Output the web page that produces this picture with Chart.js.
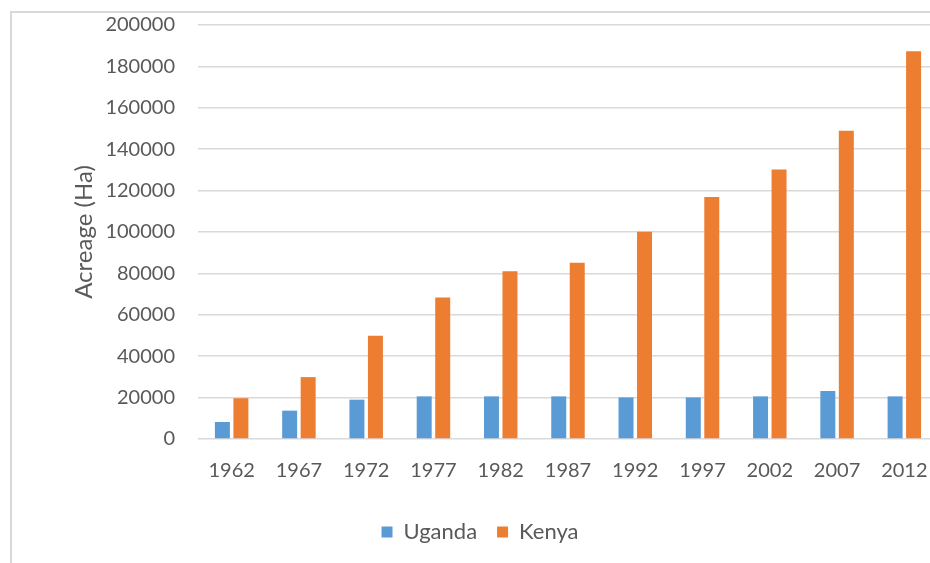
<!DOCTYPE html>
<html>
<head>
<meta charset="utf-8">
<script src="https://cdn.jsdelivr.net/npm/chart.js@4/dist/chart.umd.min.js"></script>
<style>
  html, body { margin: 0; padding: 0; background: #fff; overflow: hidden; width: 930px; height: 563px; }
  #frame { position: absolute; left: 10px; top: 11px; width: 1000px; height: 700px;
           border-left: 2px solid #d9d9d9; border-top: 2px solid #d9d9d9; }
  #wrap { position: absolute; left: 0; top: 0; width: 948px; height: 563px; }
</style>
</head>
<body>
<div id="frame"></div>
<div id="wrap"><canvas id="chart" width="948" height="563"></canvas></div>
<script>
'use strict';

// data
const years = ['1962', '1967', '1972', '1977', '1982', '1987', '1992', '1997', '2002', '2007', '2012'];
const uganda = [8200, 13700, 19000, 20600, 20600, 20600, 20100, 20100, 20600, 23200, 20600];
const kenya = [19700, 29900, 49900, 68300, 81000, 85100, 100100, 116900, 130200, 148900, 187300];
const yTicks = [0, 20000, 40000, 60000, 80000, 100000, 120000, 140000, 160000, 180000, 200000];

const textColor = '#595959';
const fontFamily = 'Lato, "Open Sans", sans-serif';

const ctx = document.getElementById('chart').getContext('2d');

const chart = new Chart(ctx, {
    type: 'bar',
    data: {
        labels: years,
        datasets: [{
            label: 'Uganda',
            data: uganda,
            backgroundColor: '#5B9BD5',
            categoryPercentage: 0.55,
            barPercentage: 0.81
        }, {
            label: 'Kenya',
            data: kenya,
            backgroundColor: '#ED7D31',
            categoryPercentage: 0.55,
            barPercentage: 0.81
        }]
    },
    options: {
        responsive: false,
        animation: false,
        layout: { padding: { top: 25, right: 10, left: 22, bottom: 10 } },
        plugins: {
            tooltip: { enabled: false },
            legend: {
                position: 'bottom',
                labels: {
                    color: textColor,
                    font: { family: fontFamily, size: 22 },
                    boxWidth: 11,
                    boxHeight: 11,
                    padding: 20
                }
            }
        },
        scales: {
            x: {
                grid: { display: false, drawTicks: false },
                border: { display: false },
                ticks: {
                    color: textColor,
                    font: { family: fontFamily, size: 20 },
                    padding: 20,
                    maxRotation: 0
                },
                afterFit: scale => { scale.height = 62; }
            },
            y: {
                min: 0,
                max: 200000,
                afterBuildTicks: scale => { scale.ticks = yTicks.map(v => ({ value: v })); },
                afterFit: scale => {
                    scale.width = 176;
                    scale.paddingTop = 0;
                    scale.paddingBottom = 0;
                },
                grid: { color: '#d9d9d9', lineWidth: 1.5, drawTicks: false },
                border: { display: false },
                ticks: {
                    color: textColor,
                    font: { family: fontFamily, size: 20 },
                    padding: 23,
                    callback: v => String(v)
                },
                title: {
                    display: true,
                    text: 'Acreage (Ha)',
                    color: textColor,
                    font: { family: fontFamily, size: 24 },
                    padding: { top: 48, bottom: 0 }
                }
            }
        }
    }
});
</script>
</body>
</html>
